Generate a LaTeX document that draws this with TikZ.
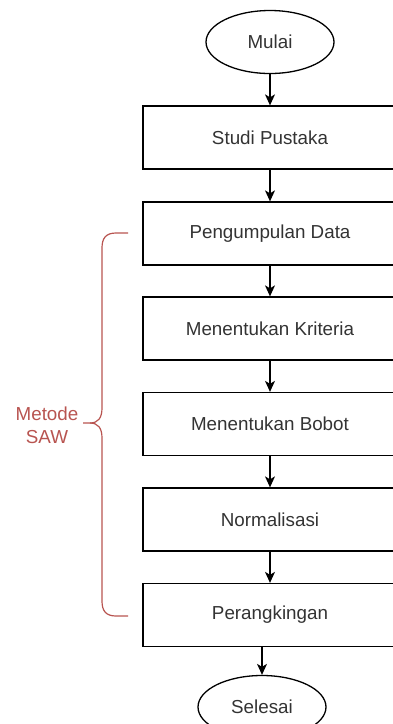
\documentclass[tikz,border=0pt]{standalone}
\usepackage{fontspec}
\setmainfont{Liberation Sans}
\usetikzlibrary{arrows.meta,shapes.geometric}
\definecolor{txt}{HTML}{333333}
\definecolor{saw}{HTML}{B85450}
\tikzset{
  procbox/.style={draw=black, line width=1.3pt, minimum width=254pt, minimum height=63pt, inner sep=0pt, text=txt, font=\fontsize{18.8}{22}\selectfont},
  termnode/.style={draw=black, line width=1.3pt, ellipse, minimum width=128pt, minimum height=63pt, inner sep=0pt, text=txt, font=\fontsize{18.8}{22}\selectfont},
  arr/.style={line width=1.3pt, -{Stealth[length=11pt,width=10pt,inset=3pt]}},
  bracestyle/.style={draw=saw, line width=1.2pt},
  sawtext/.style={text=saw, font=\fontsize{18.8}{22}\selectfont, align=center, inner sep=0pt}
}
\begin{document}
\begin{tikzpicture}[x=1pt,y=-1pt]
\useasboundingbox (0,0) rectangle (392,724);
\node[termnode] (mulai) at (270,42) {Mulai};
\node[procbox] (studi) at (270,137.5) {Studi Pustaka};
\node[procbox] (data) at (270,233.5) {Pengumpulan Data};
\node[procbox] (krit) at (270,328.5) {Menentukan Kriteria};
\node[procbox] (bobot) at (270,424) {Menentukan Bobot};
\node[procbox] (norm) at (270,519.5) {Normalisasi};
\node[procbox] (rank) at (270,615) {Perangkingan};
\node[termnode] (selesai) at (262,707) {Selesai};
\draw[arr] (mulai) -- (studi);
\draw[arr] (studi) -- (data);
\draw[arr] (data) -- (krit);
\draw[arr] (krit) -- (bobot);
\draw[arr] (bobot) -- (norm);
\draw[arr] (norm) -- (rank);
\draw[arr] (rank.south -| selesai.north) -- (selesai.north);
\coordinate (btop) at (128,233);
\coordinate (bbot) at (128,616);
\coordinate (btip) at (83,423);
\draw[bracestyle] (btop) -- (116,233) .. controls (106,233) and (102,238) .. (102,248) -- (102,408)
  .. controls (102,418) and (98,423) .. (90,423) -- (btip);
\draw[bracestyle] (bbot) -- (116,616) .. controls (106,616) and (102,611) .. (102,601) -- (102,438)
  .. controls (102,428) and (98,423) .. (90,423);
\node[sawtext] (metode) at (47,425) {Metode\\[1pt]SAW};
\end{tikzpicture}
\end{document}
